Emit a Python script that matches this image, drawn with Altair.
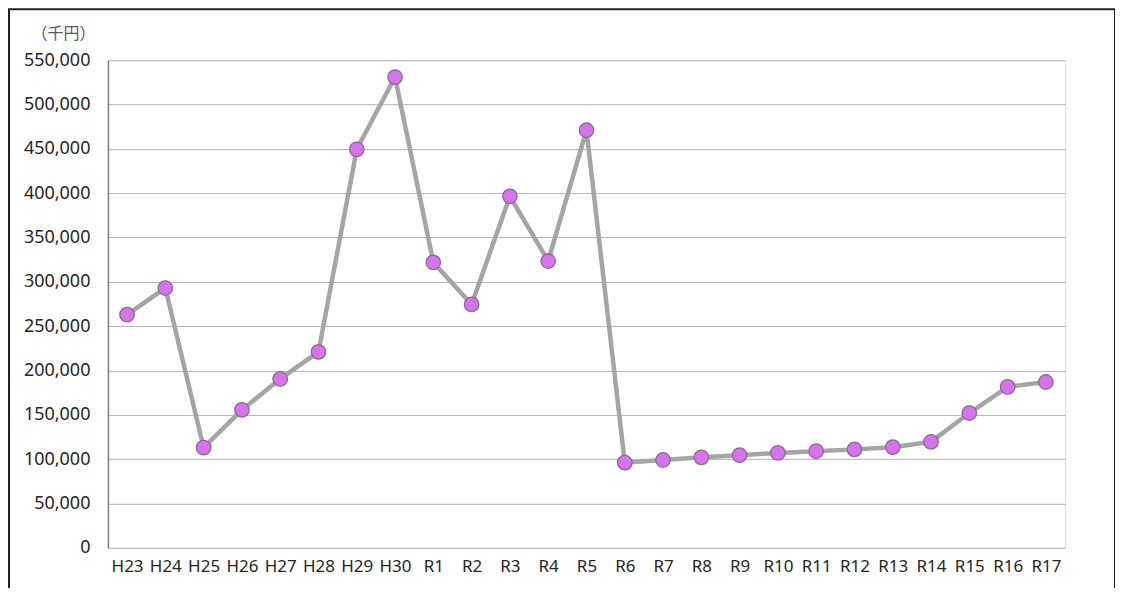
import altair as alt
import pandas as pd

years = ["H23", "H24", "H25", "H26", "H27", "H28", "H29", "H30",
         "R1", "R2", "R3", "R4", "R5", "R6", "R7", "R8", "R9", "R10",
         "R11", "R12", "R13", "R14", "R15", "R16", "R17"]
values = [263000, 293000, 113000, 155500, 190500, 221000, 449500, 531000,
          322000, 274500, 396500, 323500, 471000, 96000, 99000, 102000,
          104500, 107000, 109000, 111000, 113500, 119500, 152000, 181500, 187000]
y_ticks = list(range(0, 550001, 50000))

df = pd.DataFrame({"year": years, "value": values, "order": range(len(years))})

FONT = "Noto Sans"

x_enc = alt.X("year:N", sort=years,
              scale=alt.Scale(type="point", padding=0.5),
              axis=alt.Axis(title=None, labelAngle=0, labelFont=FONT, labelFontSize=17,
                            labelColor="#262626", labelPadding=11, ticks=False,
                            domain=False, grid=False))
y_enc = alt.Y("value:Q",
              scale=alt.Scale(domain=[0, 550000], nice=False),
              axis=alt.Axis(title="（千円）", titleAngle=0, titleX=-45, titleY=-27,
                            titleAlign="center", titleBaseline="middle",
                            titleFont="Noto Sans CJK JP", titleFontSize=16,
                            titleFontWeight="normal", titleColor="#595959",
                            values=y_ticks, format=",d", labelFont=FONT,
                            labelFontSize=18, labelColor="#262626", labelPadding=18,
                            ticks=False, domain=True, domainColor="#7f7f7f",
                            domainWidth=1.5, gridColor="#b4b4b4", gridWidth=1))

base = alt.Chart(df)
line = base.mark_line(color="#a5a5a5", strokeWidth=4.5).encode(x=x_enc, y=y_enc, order="order:Q")
points = base.mark_point(filled=True, fill="#d673ea", stroke="#8a6a96", strokeWidth=1.3,
                         size=210, opacity=1).encode(x=x_enc, y="value:Q")

frame = alt.Chart(pd.DataFrame({"a": [0]})).mark_rect(
    fill=None, stroke="#222222", strokeWidth=2, clip=False
).encode(x=alt.value(-99), x2=alt.value(1008), y=alt.value(-51), y2=alt.value(540))

chart = alt.layer(line, points, frame).properties(
    width=958, height=488,
    autosize=alt.AutoSizeParams(type="none"),
    padding={"left": 100, "top": 52, "right": 50, "bottom": 40},
).configure_view(stroke="#7f7f7f", strokeWidth=1.5).configure(background="white")

chart.save("out.html", embed_options={"renderer": "svg", "actions": False})
